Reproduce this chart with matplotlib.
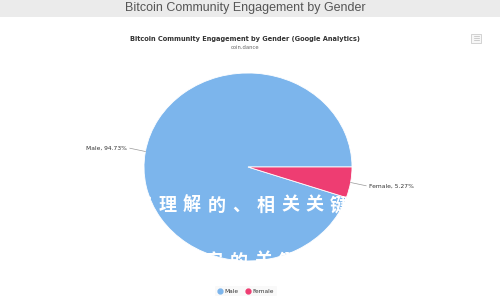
import numpy as np
import matplotlib
matplotlib.use("Agg")
from matplotlib import pyplot as plt
from matplotlib.patches import Rectangle
from matplotlib.lines import Line2D

# data
genders = ["Male", "Female"]
shares = [94.73, 5.27]
colors = ["#7cb5ec", "#ee3d72"]

header = "Bitcoin Community Engagement by Gender"
title = "Bitcoin Community Engagement by Gender (Google Analytics)"
subtitle = "coin.dance"
overlay1 = "于理解的、相关关键"
overlay2 = "字的关键"

W, H = 500, 300


def fx(x):
    return x / W


def fy(y):
    return 1 - y / H


fig = plt.figure(figsize=(5, 3), dpi=100)
fig.patch.set_facecolor("white")

# grey page header
fig.add_artist(Rectangle((0, fy(17)), 1, 17 / H, transform=fig.transFigure,
                         facecolor="#ebebeb", edgecolor="none", zorder=0))
fig.text(fx(245), fy(8.5), header, ha="center", va="center",
         fontsize=9, color="#555555", family="Liberation Sans")

fig.text(fx(245), fy(39), title, ha="center", va="center",
         fontsize=4.8, color="#333333", fontweight="bold")
fig.text(fx(245), fy(47), subtitle, ha="center", va="center",
         fontsize=3.8, color="#666666")

# export menu icon
fig.add_artist(Rectangle((fx(471), fy(43)), 10 / W, 9 / H, transform=fig.transFigure,
                         facecolor="#f7f7f7", edgecolor="#cccccc", lw=0.6))
for yy in (36, 38, 40):
    fig.add_artist(Line2D([fx(473.5), fx(478.5)], [fy(yy), fy(yy)],
                          transform=fig.transFigure, color="#bbbbbb", lw=0.5))

# pie, slightly wider than tall like the reference
cx, cy, rx, ry = 248, 167, 104, 94
ax = fig.add_axes([fx(cx - rx), fy(cy + ry), 2 * rx / W, 2 * ry / H])
wedges, _ = ax.pie(shares, colors=colors, startangle=0, counterclock=True,
                   wedgeprops=dict(edgecolor="white", linewidth=0.6))
ax.set_aspect("auto")
ax.set_xlim(-1, 1)
ax.set_ylim(-1, 1)
ax.axis("off")

# data labels with connectors
cum = np.cumsum([0] + shares)
for i, (g, s) in enumerate(zip(genders, shares)):
    mid = np.deg2rad((cum[i] + cum[i + 1]) / 2 * 3.6)
    ex, ey = np.cos(mid), np.sin(mid)
    side = np.sign(ex)
    lx = ex + side * 0.15
    ly = ey + 0.035 * np.sign(ey)
    ax.plot([ex, lx], [ey, ly], color="#999999", lw=0.5, clip_on=False)
    ax.text(lx + side * 0.03, ly, f"{g}, {s:.2f}%", ha="left" if side > 0 else "right",
            va="center", fontsize=4.3, color="#333333", clip_on=False)

# watermark text over the chart
for k, ch in enumerate(overlay1):
    fig.text(fx(143 + k * 24.5), fy(205), ch, ha="center", va="center", fontsize=13,
             color="white", fontweight="bold", family=["Noto Sans CJK SC", "DejaVu Sans"],
             zorder=5)
for k, ch in enumerate(overlay2):
    fig.text(fx(214 + k * 24.5), fy(261), ch, ha="center", va="center", fontsize=13,
             color="white", fontweight="bold", family=["Noto Sans CJK SC", "DejaVu Sans"],
             zorder=5)

# legend
handles = [Line2D([], [], marker="o", ls="none", markersize=3.5,
                  markerfacecolor=c, markeredgecolor=c) for c in colors]
leg = fig.legend(handles, genders, loc="center", bbox_to_anchor=(fx(246), fy(291)),
                 ncol=2, fontsize=4.2, frameon=True, handlelength=0.8,
                 handletextpad=0.4, columnspacing=1.2, borderpad=0.5)
leg.get_frame().set_facecolor("#f8f8f8")
leg.get_frame().set_edgecolor("none")
for t in leg.get_texts():
    t.set_color("#333333")

fig.savefig("out.png", dpi=100)
